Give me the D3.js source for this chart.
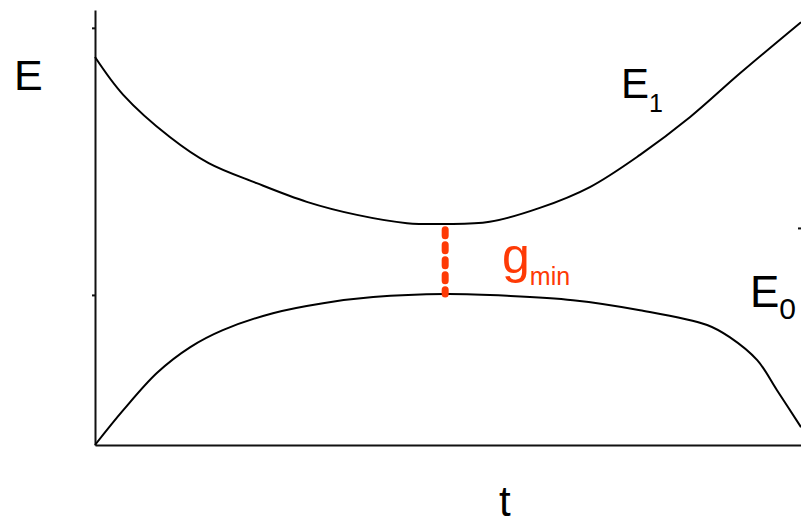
<!DOCTYPE html>
<html>
<head>
<meta charset="utf-8">
<script src="https://cdn.jsdelivr.net/npm/d3@7"></script>
<style>
    body { margin: 0; background: #fff; }
    text { font-family: "Liberation Sans", Arial, sans-serif; }
    .axis path, .axis line { stroke: #111; stroke-width: 2; }
    .curve { fill: none; stroke: #000; stroke-width: 2; }
    .gap { stroke: #fe3a06; stroke-width: 7; stroke-linecap: round; stroke-dasharray: 6,9; }
</style>
</head>
<body>
<div id="chart-area"></div>
<script>
const chartSize = { width: 801, height: 520 };
const margin = { left: 95, right: 0, top: 10, bottom: 75 };
const height = chartSize.height - margin.top - margin.bottom;
const width = chartSize.width - margin.left - margin.right;

// upper level E1
const e1Times = [0, 0.40, 1.06, 1.61, 2.29, 3.00, 3.71, 4.42, 4.96, 5.59, 6.30, 7.01, 7.72, 8.43, 9.14, 10];
const e1Values = [8.92, 8.05, 7.08, 6.48, 6.02, 5.59, 5.29, 5.10, 5.08, 5.13, 5.45, 5.93, 6.67, 7.54, 8.55, 9.72];
// ground level E0
const e0Times = [0, 0.40, 0.88, 1.35, 1.81, 2.52, 3.23, 3.94, 4.96, 5.84, 6.77, 7.72, 8.67, 8.99, 9.38, 9.66, 10];
const e0Values = [0, 0.80, 1.66, 2.25, 2.64, 3.03, 3.26, 3.40, 3.47, 3.43, 3.33, 3.10, 2.76, 2.48, 1.95, 1.26, 0.41];
// minimum gap
const gapTime = 4.96;
const gapRange = [3.47, 5.02];
const leftTicks = [3.45, 9.59];
const rightTicks = [4.99];

const x = d3.scaleLinear().domain([0, 10]).range([0, width]);
const y = d3.scaleLinear().domain([0, 10]).range([height, 0]);

const svg = d3
    .select("#chart-area")
    .append("svg")
    .attr("width", chartSize.width)
    .attr("height", chartSize.height);

const g = svg
    .append("g")
    .attr("transform", `translate(${margin.left},${margin.top})`);

g.append("g")
    .attr("class", "axis")
    .call(d3.axisLeft(y).tickValues(leftTicks).tickSize(3).tickSizeOuter(0).tickFormat(""));

g.append("g")
    .attr("class", "axis")
    .attr("transform", `translate(0,${height})`)
    .call(d3.axisBottom(x).tickValues([]).tickSizeOuter(0));

g.append("g")
    .attr("class", "axis")
    .attr("transform", `translate(${x(10) - 3},0)`)
    .call(d3.axisRight(y).tickValues(rightTicks).tickSize(3).tickFormat(""))
    .select(".domain").remove();

const line = d3
    .line()
    .x(d => x(d[0]))
    .y(d => y(d[1]))
    .curve(d3.curveCatmullRom.alpha(0.5));

g.append("path")
    .attr("class", "curve")
    .attr("d", line(d3.zip(e1Times, e1Values)));
g.append("path")
    .attr("class", "curve")
    .attr("d", line(d3.zip(e0Times, e0Values)));

g.append("line")
    .attr("class", "gap")
    .attr("x1", x(gapTime))
    .attr("x2", x(gapTime))
    .attr("y1", y(gapRange[1]) + 3)
    .attr("y2", y(gapRange[0]));

// labels
svg.append("text").attr("x", 14).attr("y", 90).attr("font-size", 43).text("E");
svg.append("text").attr("x", 499).attr("y", 516).attr("font-size", 42).text("t");

const e1Label = svg.append("text").attr("x", 621).attr("y", 98).attr("font-size", 42);
e1Label.append("tspan").text("E");
e1Label.append("tspan").attr("dy", 14).attr("font-size", 25).text("1");

const e0Label = svg.append("text").attr("x", 750).attr("y", 307).attr("font-size", 44);
e0Label.append("tspan").text("E");
e0Label.append("tspan").attr("dy", 12).attr("font-size", 30).text("0");

const gLabel = svg.append("text").attr("x", 502).attr("y", 273).attr("font-size", 50).attr("fill", "#fe3a06");
gLabel.append("tspan").text("g");
gLabel.append("tspan").attr("dy", 12).attr("font-size", 25).text("min");
</script>
</body>
</html>
